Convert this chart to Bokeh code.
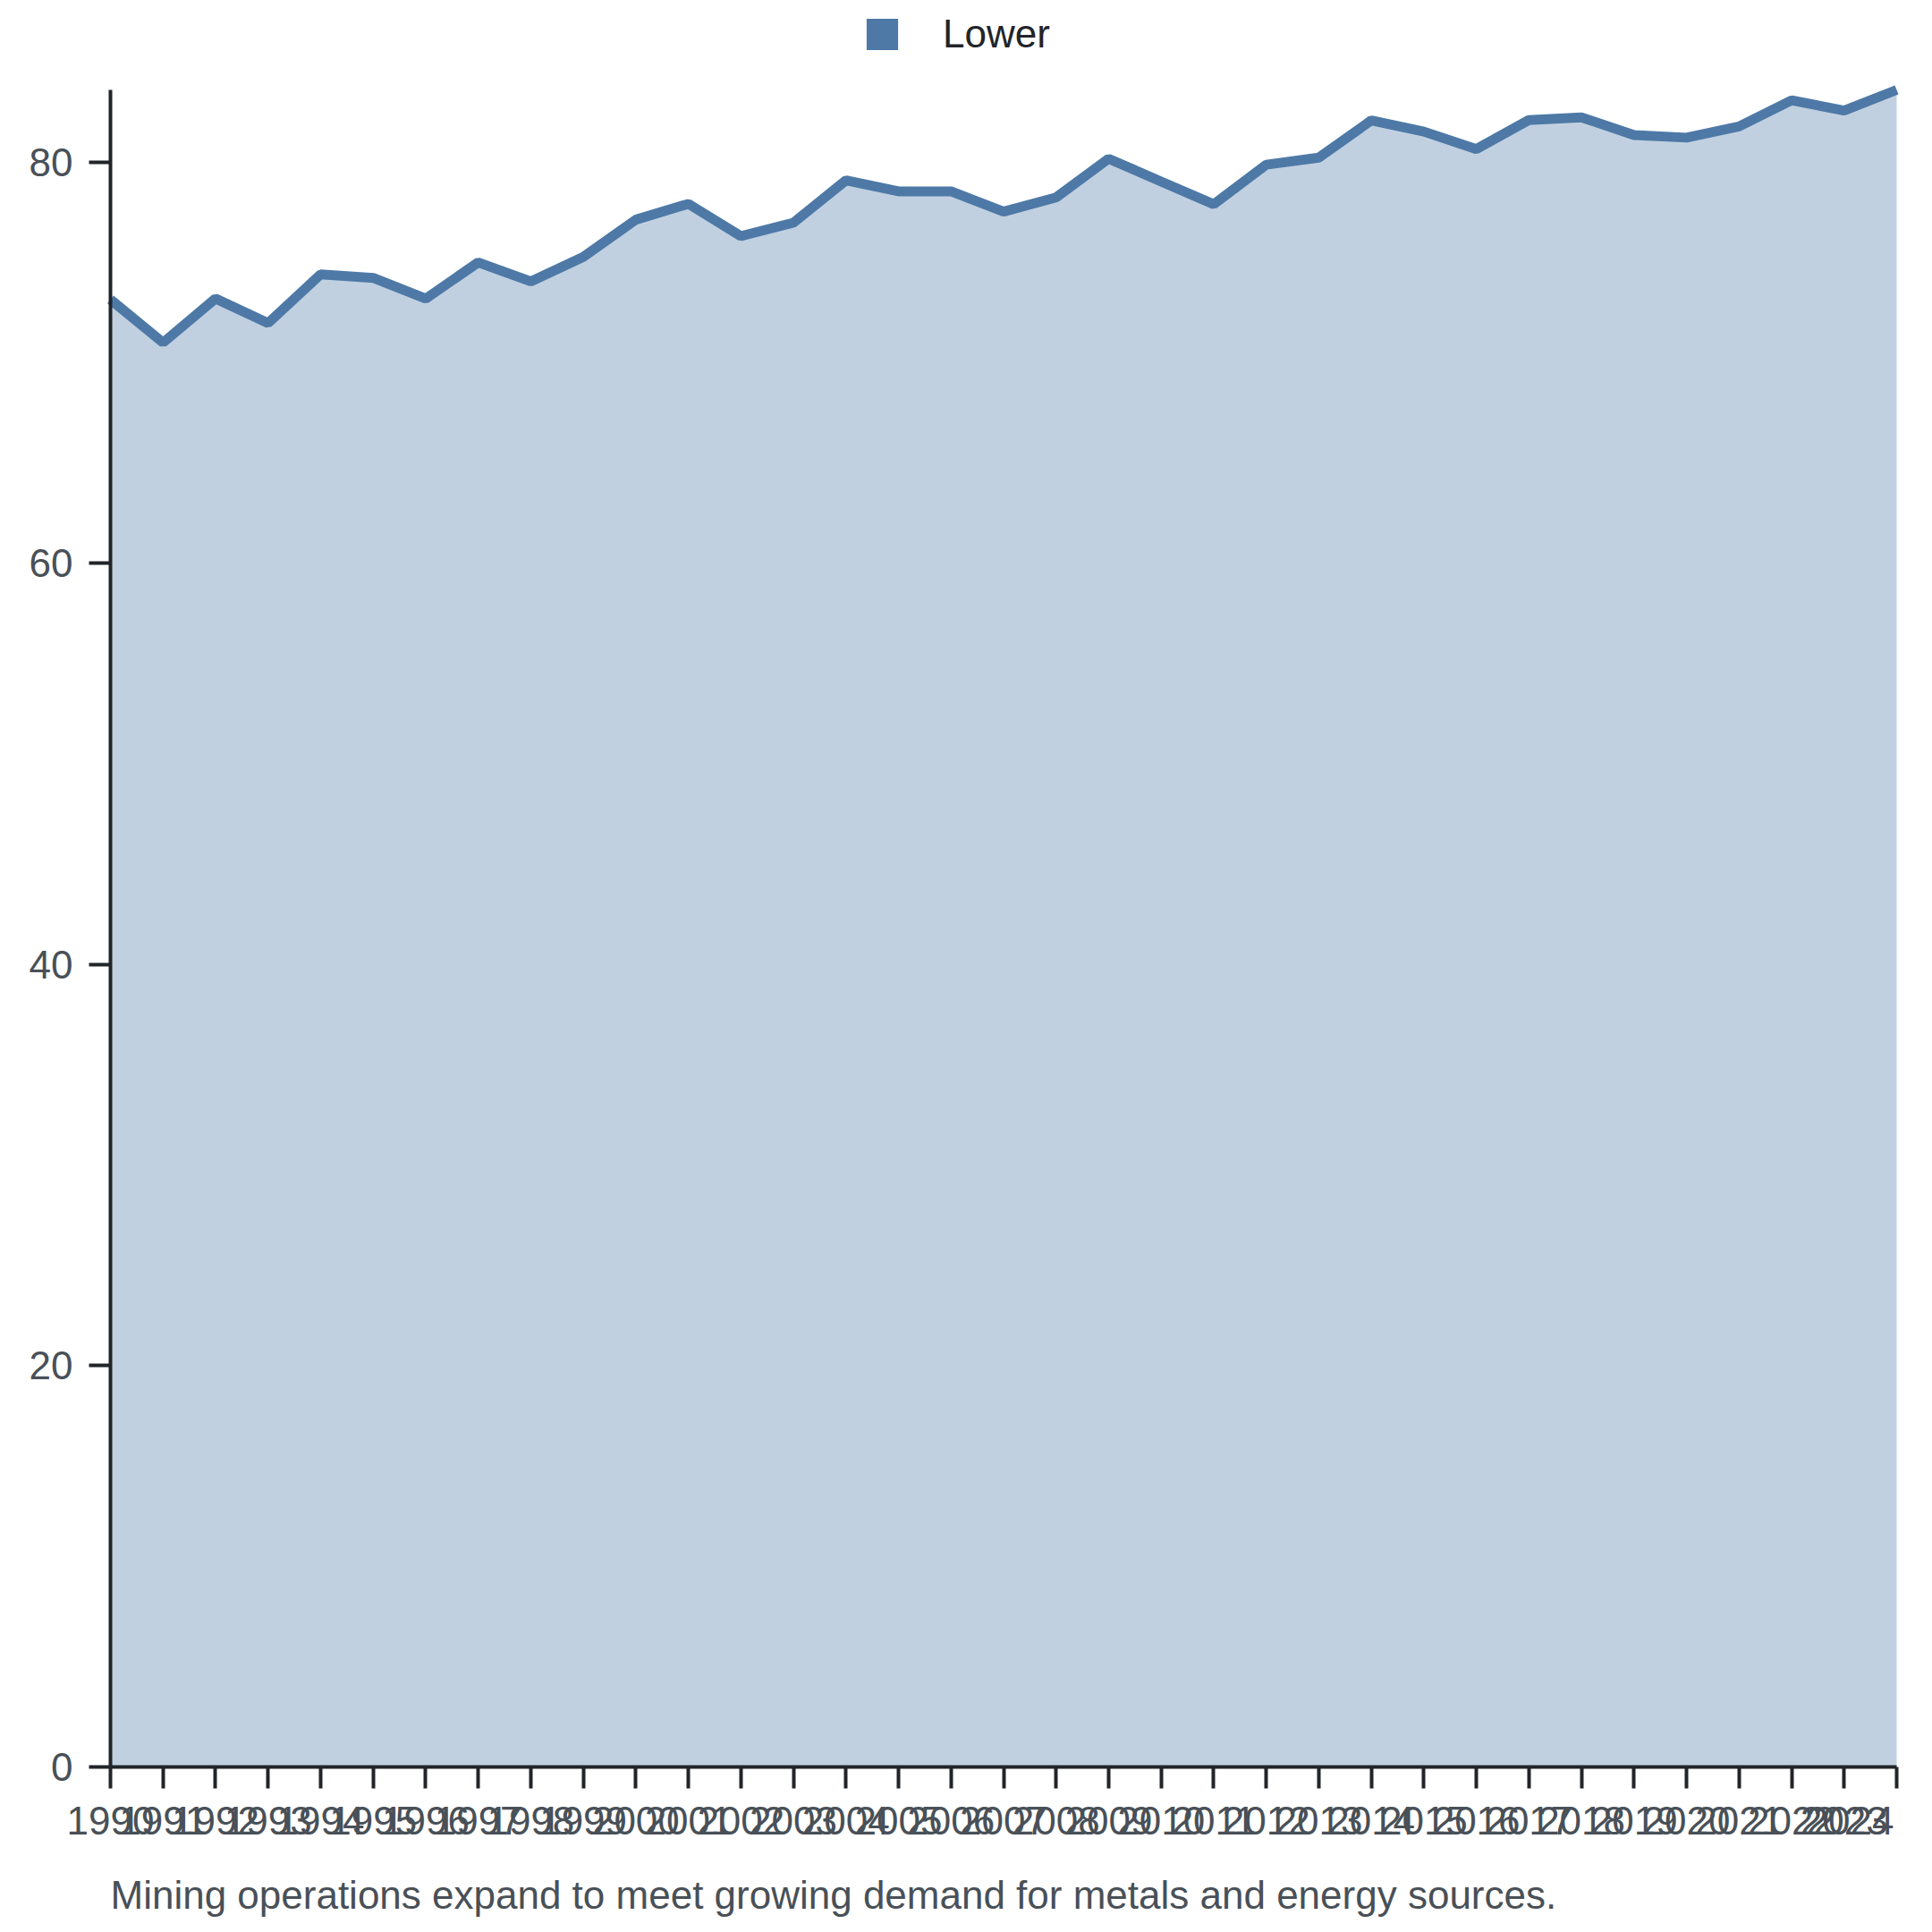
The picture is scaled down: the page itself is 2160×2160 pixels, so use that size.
from bokeh.plotting import figure
from bokeh.models import Range1d, FixedTicker, Legend, LegendItem, Label, ColumnDataSource
from bokeh.embed import file_html
from bokeh.resources import INLINE

years = list(range(1990, 2025))
lower = [73.15, 71.0, 73.2, 71.97, 74.4, 74.23, 73.19, 75.0, 74.05, 75.27,
         77.13, 77.92, 76.31, 76.98, 79.09, 78.54, 78.54, 77.53, 78.24, 80.17,
         79.03, 77.9, 79.87, 80.22, 82.08, 81.52, 80.65, 82.1, 82.23, 81.35,
         81.22, 81.78, 83.08, 82.57, 83.6]
series_name = "Lower"
caption = "Mining operations expand to meet growing demand for metals and energy sources."
y_ticks = [0, 20, 40, 60, 80]

LINE = "#4e79a7"
FONT = "Liberation Sans"
LABEL_COLOR = "#495057"
AXIS_COLOR = "#212529"

W, H = 2144, 2144
LEFT, RIGHT = 123, 2120                 # pixel x of first / last year
TOP_PAD, BOTTOM_PAD = 100, 169          # pixels above the data max / below zero
ky = (H - TOP_PAD - BOTTOM_PAD) / max(lower)
kx = (RIGHT - LEFT) / (years[-1] - years[0])
y_range = Range1d(-BOTTOM_PAD / ky, max(lower) + TOP_PAD / ky)
x_range = Range1d(years[0] - LEFT / kx, years[-1] + (W - RIGHT) / kx)

p = figure(width=W, height=H, output_backend="svg", toolbar_location=None,
           x_range=x_range, y_range=y_range,
           min_border_left=0, min_border_right=0, min_border_top=0, min_border_bottom=0)
p.outline_line_color = None
p.xgrid.visible = False
p.ygrid.visible = False

src = ColumnDataSource(dict(x=years, y=lower, y0=[0] * len(years)))
p.varea(x="x", y1="y0", y2="y", source=src, fill_color=LINE, fill_alpha=0.35)
p.line(x="x", y="y", source=src, line_color=LINE, line_width=11)
# zero-size quads on the series points: only used to give the legend a solid swatch
swatch = p.quad(left="x", right="x", top="y", bottom="y", source=src,
                fill_color=LINE, line_color=None)

for ax, ticks in ((p.xaxis[0], years), (p.yaxis[0], y_ticks)):
    ax.ticker = FixedTicker(ticks=ticks)
    ax.axis_line_color = AXIS_COLOR
    ax.axis_line_width = 4
    ax.major_tick_line_color = AXIS_COLOR
    ax.major_tick_line_width = 4
    ax.major_tick_out = 24
    ax.major_tick_in = 0
    ax.minor_tick_line_color = None
    ax.major_label_text_font = FONT
    ax.major_label_text_font_size = "44px"
    ax.major_label_text_color = LABEL_COLOR
p.xaxis.major_label_standoff = 20
p.yaxis.major_label_standoff = 18
p.xaxis[0].fixed_location = 0
p.xaxis[0].bounds = (years[0], years[-1])
p.yaxis[0].fixed_location = years[0]
p.yaxis[0].bounds = (0, max(lower))

# last year label sits flush with the end of the axis
p.xaxis[0].major_label_overrides = {years[-1]: ""}
last_lbl = Label(x=years[-1], y=0, text=str(years[-1]), x_offset=-3, y_offset=-44,
                 text_font=FONT, text_font_size="44px", text_color=LABEL_COLOR,
                 text_align="right", text_baseline="top")
p.add_layout(last_lbl)

legend = Legend(items=[LegendItem(label=series_name, renderers=[swatch])],
                location=(964, H - 63), orientation="horizontal",
                padding=0, margin=0, border_line_color=None, background_fill_alpha=0,
                glyph_width=44, glyph_height=44, label_standoff=46,
                label_text_font=FONT, label_text_font_size="44px", label_text_color="#212529")
p.add_layout(legend, "center")

cap = Label(x=LEFT, y=26, x_units="screen", y_units="screen", text=caption,
            text_font=FONT, text_font_size="44px", text_color=LABEL_COLOR,
            text_baseline="alphabetic", text_align="left")
p.add_layout(cap)

open("out.html", "w").write(file_html(p, INLINE))
